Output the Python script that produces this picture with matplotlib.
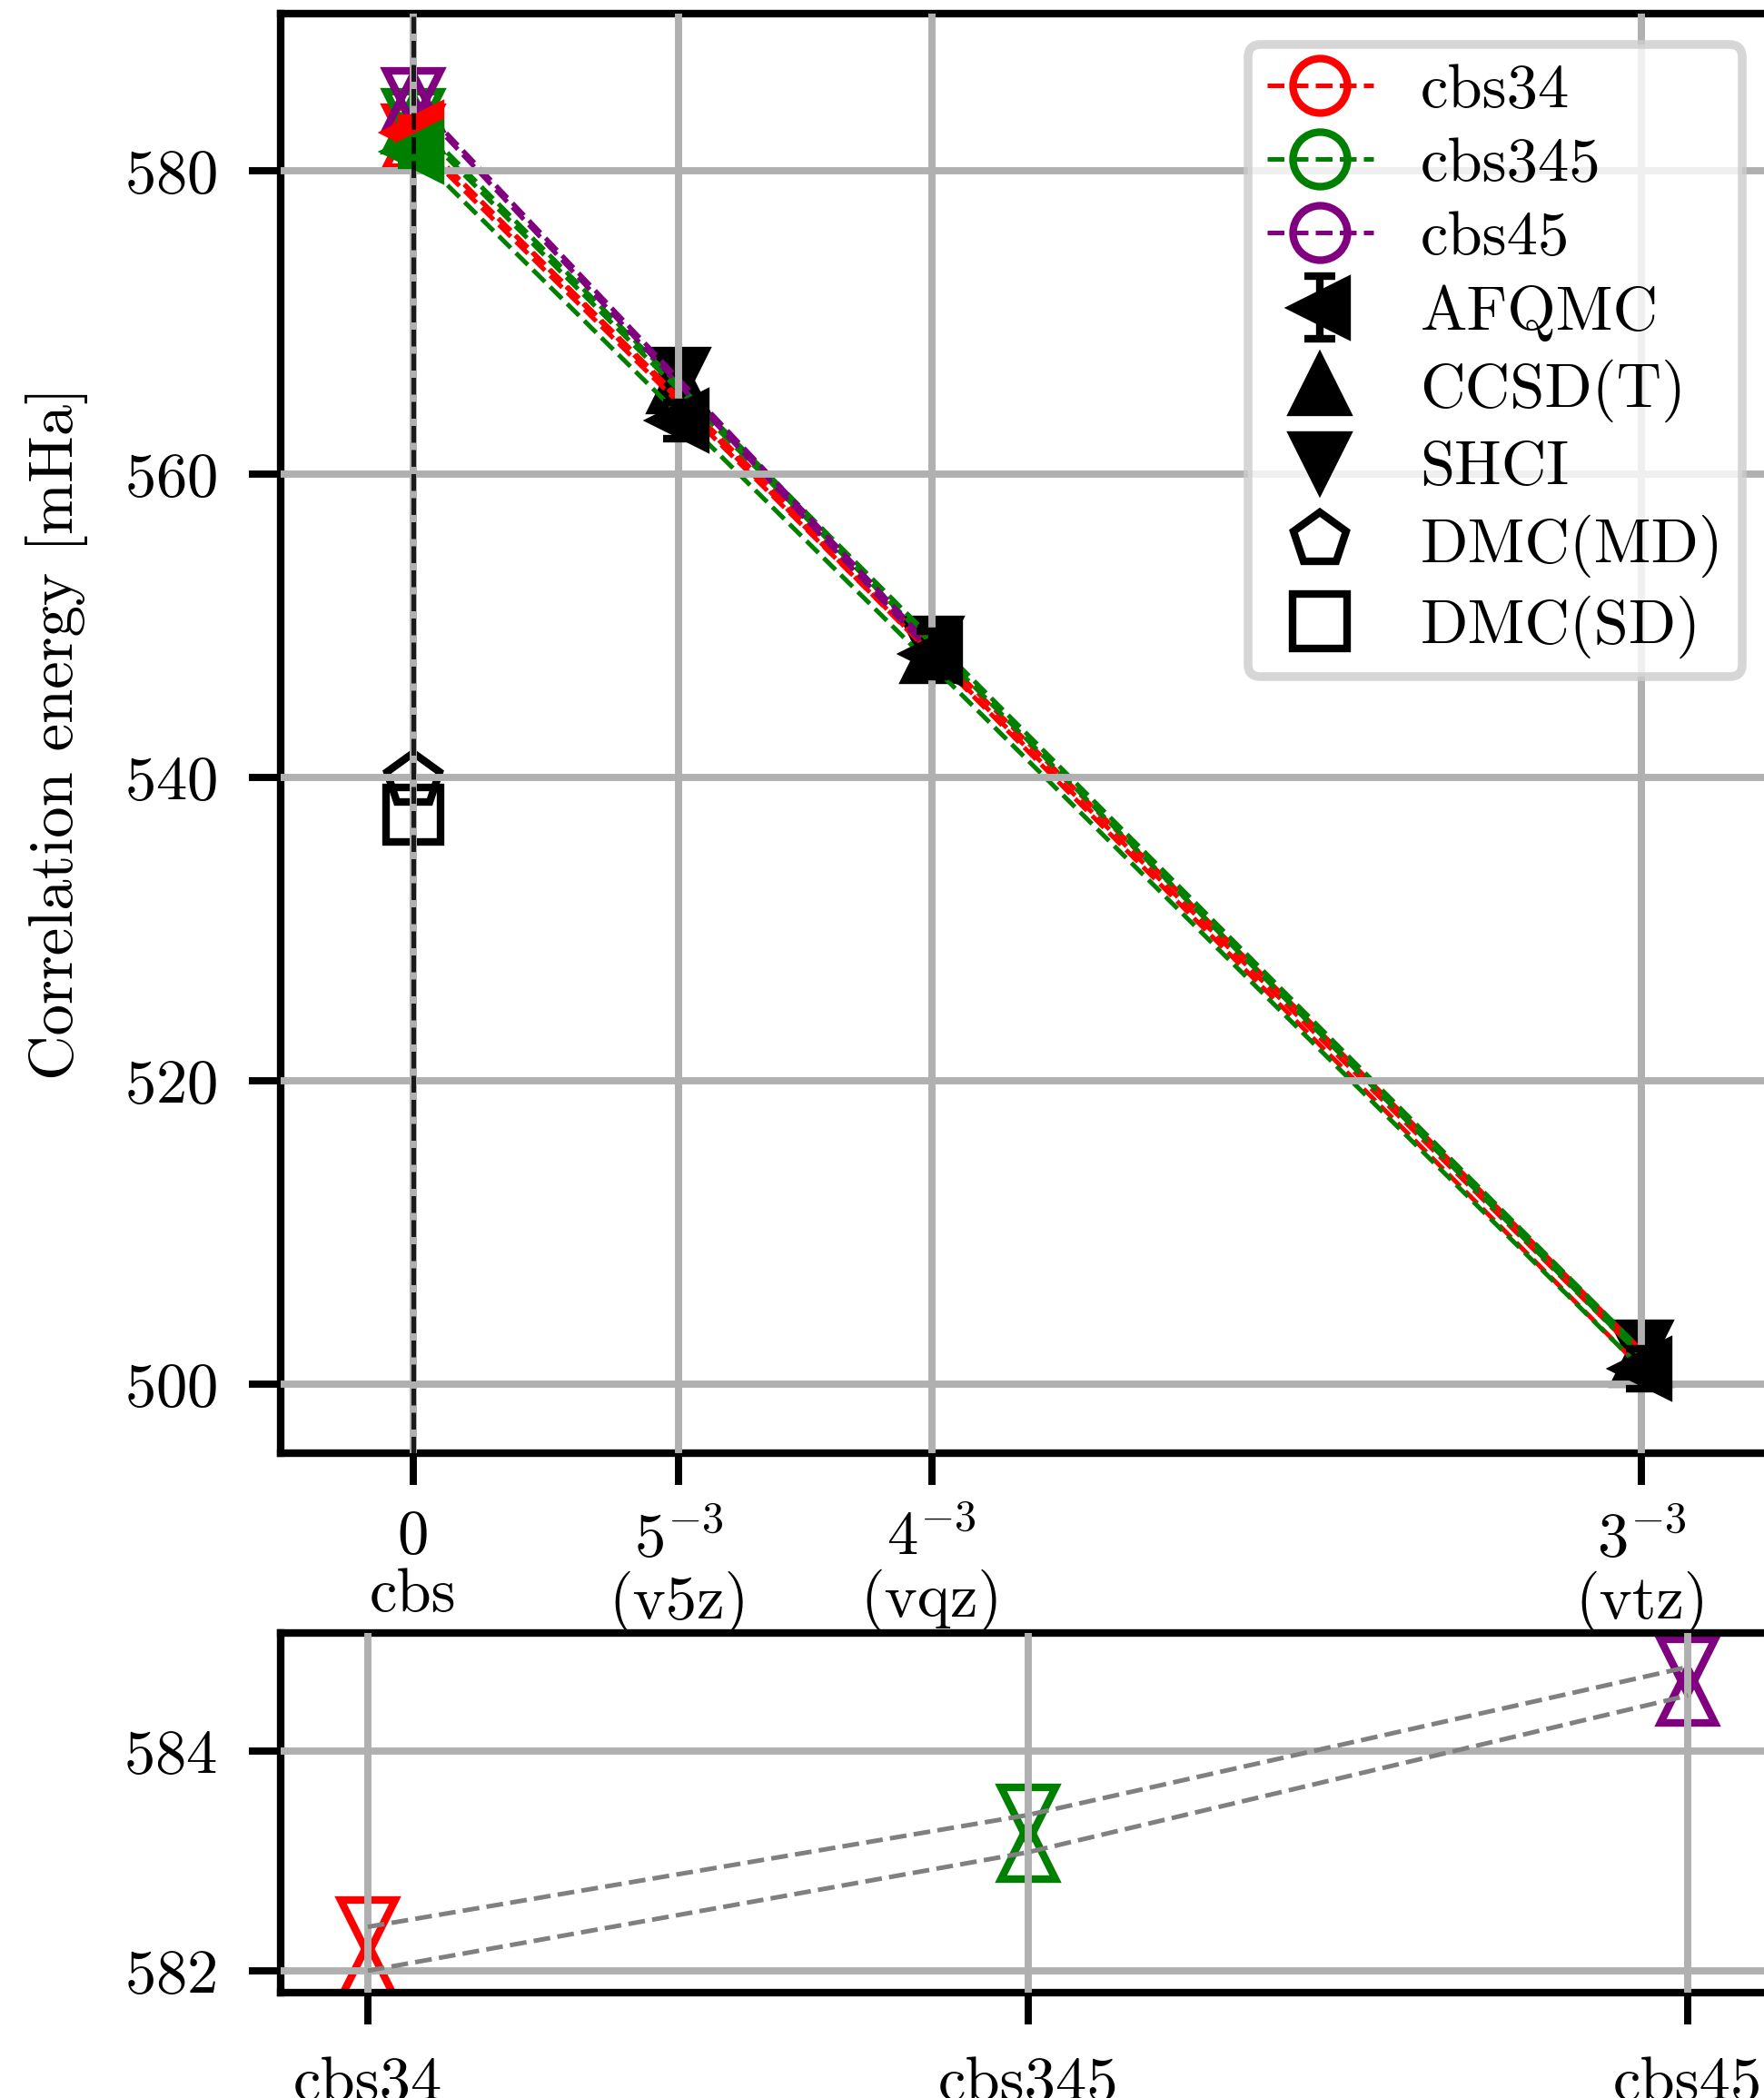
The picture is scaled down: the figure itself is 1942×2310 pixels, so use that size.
import numpy as np
import matplotlib
matplotlib.use('Agg')
import matplotlib.pyplot as plt
from matplotlib.lines import Line2D

FS = 16.5
plt.rcParams.update({
    'font.family': 'serif', 'font.serif': ['cmr10'], 'mathtext.fontset': 'cm',
    'axes.formatter.use_mathtext': True, 'axes.unicode_minus': False,
    'font.size': FS, 'legend.fontsize': FS,
    'axes.linewidth': 2.0,
    'xtick.major.size': 8.4, 'ytick.major.size': 8.4,
    'xtick.major.width': 1.9, 'ytick.major.width': 1.9,
    'xtick.major.pad': 8.4, 'ytick.major.pad': 8.4,
    'grid.linewidth': 1.9, 'grid.color': '#b0b0b0',
    'axes.axisbelow': False,
})

# ---------------- data ----------------
cardinal = [5, 4, 3]                      # v5z, vqz, vtz
basis_names = ['v5z', 'vqz', 'vtz']
shci = [566.30, 548.60, 502.20]
ccsdt = [565.95, 548.20, 501.80]
afqmc = [563.50, 548.10, 501.00]
afqmc_err = [1.2, 1.5, 1.3]

schemes = ['cbs34', 'cbs345', 'cbs45']
scheme_colors = ['red', 'green', 'purple']
scheme_basis = [[1, 2], [0, 1, 2], [0, 1]]   # indices into basis lists
shci_cbs = [582.40, 583.42, 584.77]
ccsdt_cbs = [582.00, 583.08, 584.51]
afqmc_schemes = ['cbs34', 'cbs345']
afqmc_cbs = [582.47, 581.26]
afqmc_cbs_err = [1.0, 0.9]

dmc_md = 539.8
dmc_sd = 537.5

xtick_labels = ['0\ncbs', '$5^{-3}$\n(v5z)', '$4^{-3}$\n(vqz)', '$3^{-3}$\n(vtz)']

# ---------------- figure ----------------
MS = 14.4
MEW = 2.0
LW = 1.2

fig = plt.figure(figsize=(1942 / 300, 2310 / 300), dpi=300)
ax1 = fig.add_axes([0.1591, 0.30736, 1.0052 - 0.1591, 0.99351 - 0.30736])
ax2 = fig.add_axes([0.1591, 0.05022, 1.0052 - 0.1591, 0.22165 - 0.05022])

bx = [n ** -3.0 for n in cardinal]

# black basis-set points
ax1.plot(bx, ccsdt, '^', color='k', ms=MS, mew=MEW, ls='none', zorder=2)
ax1.plot(bx, shci, 'v', color='k', ms=MS, mew=MEW, ls='none', zorder=2)
h_af = ax1.errorbar(bx, afqmc, yerr=afqmc_err, fmt='<', color='k', ms=MS, mew=MEW,
                    capsize=4, elinewidth=2, capthick=2, zorder=3)

# extrapolation lines and cbs points
for si, (s, c, idx) in enumerate(zip(schemes, scheme_colors, scheme_basis)):
    imax = max(idx, key=lambda i: bx[i])
    for vals, cbs in ((ccsdt, ccsdt_cbs), (shci, shci_cbs)):
        ax1.plot([0, bx[imax]], [cbs[si], vals[imax]], '--', color=c, lw=LW, zorder=2)
    ax1.plot(0, ccsdt_cbs[si], '^', mfc='none', mec=c, ms=MS, mew=MEW, zorder=2)
    ax1.plot(0, shci_cbs[si], 'v', mfc='none', mec=c, ms=MS, mew=MEW, zorder=2)
    if s in afqmc_schemes:
        k = afqmc_schemes.index(s)
        ax1.plot([0, bx[imax]], [afqmc_cbs[k], afqmc[imax]], '--', color=c, lw=LW, zorder=2)
        ax1.errorbar(0, afqmc_cbs[k], yerr=afqmc_cbs_err[k], fmt='<', color=c, ms=MS,
                     mew=MEW, capsize=4, elinewidth=2, capthick=2, zorder=3)

ax1.plot(0, dmc_md, 'p', mfc='none', mec='k', ms=MS, mew=MEW, zorder=2)
ax1.plot(0, dmc_sd, 's', mfc='none', mec='k', ms=MS, mew=MEW, zorder=2)
ax1.axvline(0, color='k', alpha=0.85, ls='--', lw=1.2, zorder=4)

ax1.set_xlim(-0.004, 0.041)
ax1.set_ylim(495.43, 590.34)
ax1.set_xticks([0] + bx)
ax1.set_xticklabels(xtick_labels, linespacing=1.05)
ax1.tick_params(axis='x', pad=6.5)
ax1.set_yticks([500, 520, 540, 560, 580])
ax1.grid(True)
ax1.spines['right'].set_visible(False)
ax1.set_ylabel('Correlation energy [mHa]')
ax1.yaxis.set_label_coords(-0.129, 0.5)

handles = [Line2D([], [], color=c, ls='--', lw=LW, marker='o', mfc='none', mec=c,
                  ms=MS, mew=MEW) for c in scheme_colors]
handles += [h_af,
            Line2D([], [], ls='none', marker='^', color='k', ms=MS, mew=MEW),
            Line2D([], [], ls='none', marker='v', color='k', ms=MS, mew=MEW),
            Line2D([], [], ls='none', marker='p', mfc='none', mec='k', ms=MS, mew=MEW),
            Line2D([], [], ls='none', marker='s', mfc='none', mec='k', ms=MS, mew=MEW)]
labels = schemes + ['AFQMC', 'CCSD(T)', 'SHCI', 'DMC(MD)', 'DMC(SD)']
leg = ax1.legend(handles, labels, loc='upper right', framealpha=0.8,
                 edgecolor='0.8', fancybox=True, labelspacing=0.29,
                 handlelength=1.7, handletextpad=0.75, borderpad=0.3)
leg.get_frame().set_linewidth(2.3)

# ---------------- bottom panel ----------------
xs = np.arange(len(schemes))
ax2.plot(xs, shci_cbs, '--', color='gray', lw=LW, zorder=3)
ax2.plot(xs, ccsdt_cbs, '--', color='gray', lw=LW, zorder=3)
for i, c in enumerate(scheme_colors):
    ax2.plot(xs[i], shci_cbs[i], 'v', mfc='none', mec=c, ms=MS, mew=MEW, zorder=2)
    ax2.plot(xs[i], ccsdt_cbs[i], '^', mfc='none', mec=c, ms=MS, mew=MEW, zorder=2)
ax2.set_xlim(-0.132, 2.129)
ax2.set_ylim(581.80, 585.08)
ax2.set_xticks(xs)
ax2.set_xticklabels(schemes)
ax2.set_yticks([582, 584])
ax2.grid(True)
ax2.spines['right'].set_visible(False)

fig.savefig('out.png', dpi=300)
